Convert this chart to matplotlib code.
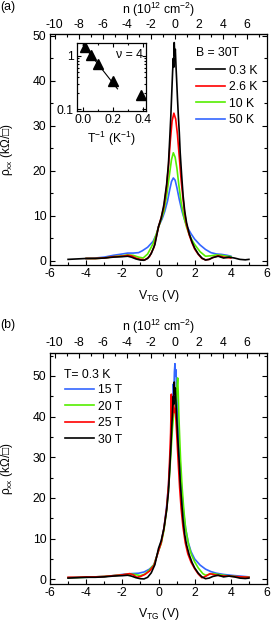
import matplotlib
matplotlib.use('Agg')
import matplotlib.pyplot as plt
from matplotlib.ticker import MultipleLocator, FixedLocator, NullFormatter, FixedFormatter

FS = 8.8
plt.rcParams['font.family'] = ['Liberation Sans', 'DejaVu Sans']
plt.rcParams['font.size'] = FS
plt.rcParams['axes.unicode_minus'] = False
plt.rcParams['mathtext.fontset'] = 'custom'
plt.rcParams['mathtext.rm'] = 'Liberation Sans'
plt.rcParams['mathtext.it'] = 'Liberation Sans:italic'
plt.rcParams['mathtext.default'] = 'regular'

# ---------------- data ----------------
# Panel (a): B = 30 T, various temperatures
v_03K = [-5.0, -4.5, -4.0, -3.5, -3.0, -2.5, -2.0, -1.7, -1.5, -1.25, -1.0, -0.8, -0.6, -0.4, -0.2, 0.0,
         0.15, 0.3, 0.45, 0.55, 0.62, 0.68, 0.73, 0.78, 0.82, 0.84, 0.87, 0.9, 0.93, 0.97, 1.0, 1.05,
         1.1, 1.15, 1.2, 1.28, 1.36, 1.45, 1.55, 1.7, 1.85, 2.0, 2.2, 2.4, 2.6, 2.8, 3.0, 3.3, 3.6,
         3.9, 4.2, 4.5, 4.8, 5.0]
r_03K = [0.3, 0.4, 0.5, 0.5, 0.6, 0.8, 0.9, 1.0, 0.8, 0.4, 0.15, 0.1, 0.5, 1.6, 3.6, 7.6,
         9.5, 12.5, 17.0, 21.5, 27.0, 32.0, 37.0, 42.0, 45.0, 43.0, 48.5, 45.5, 47.0, 43.0, 40.5, 36.0,
         32.0, 28.5, 24.0, 19.0, 14.5, 11.0, 8.5, 6.0, 4.2, 2.8, 1.5, 0.6, 0.15, 0.3, 0.7, 1.0, 0.6,
         0.8, 0.6, 0.3, 0.2, 0.3]

v_26K = [-4.0, -3.5, -3.0, -2.5, -2.0, -1.7, -1.5, -1.25, -1.0, -0.75, -0.5, -0.25, 0.0, 0.15, 0.3,
         0.45, 0.55, 0.65, 0.75, 0.85, 0.95, 1.05, 1.15, 1.25, 1.35, 1.45, 1.55, 1.7, 1.85, 2.0, 2.2,
         2.4, 2.6, 2.8, 3.0, 3.3, 3.6, 4.0]
r_26K = [0.5, 0.5, 0.6, 0.9, 1.0, 1.2, 1.1, 0.6, 0.3, 0.2, 0.9, 3.0, 7.5, 9.6, 12.0,
         16.5, 21.0, 26.5, 31.0, 32.8, 31.5, 28.0, 23.0, 18.0, 14.0, 10.5, 8.0, 5.7, 4.0, 2.6, 1.4,
         0.5, 0.2, 0.3, 0.7, 1.1, 0.8, 0.6]

v_10K = [-4.0, -3.5, -3.0, -2.5, -2.0, -1.7, -1.4, -1.1, -0.85, -0.6, -0.3, 0.0, 0.15, 0.3, 0.45,
         0.6, 0.72, 0.82, 0.92, 1.02, 1.12, 1.25, 1.4, 1.55, 1.7, 1.85, 2.0, 2.3, 2.6, 2.9, 3.2, 3.5,
         3.8, 4.0]
r_10K = [0.5, 0.5, 0.6, 0.9, 1.1, 1.3, 1.2, 0.8, 0.6, 1.5, 3.8, 7.4, 9.2, 11.0, 14.5,
         19.0, 22.5, 24.0, 23.0, 20.5, 17.0, 13.0, 9.8, 7.5, 5.8, 4.6, 3.6, 2.0, 1.0, 1.1, 1.3, 1.2,
         1.0, 0.9]

v_50K = [-4.0, -3.5, -3.0, -2.5, -2.0, -1.7, -1.4, -1.1, -0.9, -0.6, -0.3, -0.1, 0.0, 0.2, 0.35,
         0.5, 0.62, 0.72, 0.82, 0.92, 1.02, 1.15, 1.3, 1.45, 1.6, 1.8, 2.0, 2.3, 2.6, 2.9, 3.2, 3.5,
         3.8, 4.0]
r_50K = [0.5, 0.6, 0.8, 1.2, 1.5, 1.7, 1.7, 1.8, 2.2, 3.0, 4.3, 6.0, 7.6, 9.3, 11.0,
         13.3, 15.8, 17.6, 18.4, 17.9, 16.2, 13.6, 11.0, 9.0, 7.4, 6.0, 4.8, 3.5, 2.5, 1.8, 1.5, 1.4,
         1.2, 1.0]

# Panel (b): T = 0.3 K, various fields
v_15T = [-5.0, -4.5, -4.0, -3.5, -3.0, -2.5, -2.0, -1.5, -1.1, -0.8, -0.5, -0.25, 0.0, 0.15, 0.3,
         0.45, 0.55, 0.62, 0.68, 0.73, 0.78, 0.82, 0.85, 0.88, 0.91, 0.94, 0.97, 1.0, 1.05, 1.1,
         1.15, 1.22, 1.3, 1.4, 1.5, 1.65, 1.8, 2.0, 2.3, 2.6, 2.9, 3.2, 3.6, 4.0, 4.5, 5.0]
r_15T = [0.4, 0.5, 0.5, 0.6, 0.7, 0.9, 1.2, 1.4, 1.5, 1.8, 2.5, 3.6, 7.0, 9.2, 12.5,
         18.0, 23.0, 28.0, 33.0, 38.0, 43.0, 48.0, 46.0, 51.0, 53.0, 50.0, 51.5, 46.0, 41.0, 36.0,
         31.5, 26.0, 21.0, 16.0, 12.5, 9.0, 6.8, 5.0, 3.5, 2.5, 1.9, 1.5, 1.2, 1.0, 0.8, 0.6]

v_20T = [-5.0, -4.0, -3.0, -2.5, -2.0, -1.6, -1.3, -1.0, -0.75, -0.5, -0.25, 0.0, 0.15, 0.3, 0.45,
         0.55, 0.63, 0.7, 0.77, 0.83, 0.88, 0.93, 0.98, 1.02, 1.06, 1.09, 1.12, 1.17, 1.22, 1.3, 1.4,
         1.5, 1.65, 1.8, 2.0, 2.2, 2.45, 2.6, 2.8, 3.0, 3.3, 3.6, 4.0, 4.5, 5.0]
r_20T = [0.4, 0.5, 0.7, 0.9, 1.1, 1.3, 1.2, 0.9, 1.3, 2.3, 3.6, 7.0, 8.8, 12.0, 17.0,
         22.0, 27.0, 32.0, 37.0, 40.0, 42.0, 41.0, 44.0, 47.0, 49.5, 46.0, 41.0, 35.0, 29.5, 23.0, 17.0,
         12.5, 8.8, 6.3, 4.3, 2.8, 1.4, 1.0, 1.2, 1.4, 1.2, 1.0, 0.8, 0.6, 0.5]

v_25T = [-5.0, -4.5, -4.0, -3.5, -3.0, -2.5, -2.0, -1.6, -1.4, -1.2, -1.0, -0.75, -0.5, -0.25, 0.0,
         0.15, 0.3, 0.45, 0.55, 0.62, 0.67, 0.71, 0.74, 0.78, 0.83, 0.88, 0.93, 0.98, 1.04, 1.1,
         1.17, 1.25, 1.35, 1.48, 1.62, 1.8, 2.0, 2.2, 2.4, 2.6, 2.85, 3.1, 3.4, 3.8, 4.2, 4.6, 5.0]
r_25T = [0.5, 0.5, 0.6, 0.6, 0.7, 0.9, 1.1, 1.4, 1.1, 0.5, 0.7, 1.2, 2.0, 3.4, 7.0,
         9.0, 12.5, 17.5, 23.0, 30.0, 36.0, 45.5, 39.0, 40.0, 43.0, 41.0, 42.0, 38.0, 33.0, 28.0,
         22.5, 17.5, 13.0, 9.0, 6.3, 4.2, 2.6, 1.3, 0.4, 0.7, 1.4, 1.1, 0.9, 0.8, 0.7, 0.6, 0.5]

# Inset: activation plot, nu = 4
inv_T = [0.01, 0.05, 0.1, 0.2, 0.385]
rho_min = [1.45, 1.02, 0.70, 0.34, 0.185]
fit_x = [0.0, 0.23]
fit_y = [1.6, 0.24]

temps_a = ['0.3 K', '2.6 K', '10 K', '50 K']
fields_b = ['15 T', '20 T', '25 T', '30 T']
n_ticks = [-10, -8, -6, -4, -2, 0, 2, 4, 6]

C_BLACK = '#000000'
C_RED = '#ff0000'
C_GREEN = '#55ee00'
C_BLUE = '#3366ff'

W, H = 271, 624
fig = plt.figure(figsize=(W / 100, H / 100), dpi=100)


def v2n(v):
    return 1.504 * (v - 0.913)


def n2v(n):
    return n / 1.504 + 0.913


def fx(px):
    return px / W


def fy(py):
    return 1 - py / H


def style_main(ax, ylim, top_px, bot_px, xlabel_top_px, nlabel_px):
    ax.set_xlim(-6, 6)
    ax.set_ylim(*ylim)
    ax.xaxis.set_major_locator(MultipleLocator(2))
    ax.xaxis.set_minor_locator(MultipleLocator(1))
    ax.yaxis.set_major_locator(FixedLocator([0, 10, 20, 30, 40, 50]))
    ax.yaxis.set_minor_locator(FixedLocator([5, 15, 25, 35, 45, 55]))
    ax.tick_params(which='both', direction='in', top=False, right=True, width=0.8, pad=2.5)
    ax.tick_params(which='major', length=3.5)
    ax.tick_params(which='minor', length=2)
    for s in ax.spines.values():
        s.set_linewidth(0.9)
    hpx = bot_px - top_px
    ax.set_xlabel('V$_{TG}$ (V)')
    ax.xaxis.set_label_coords(0.5, -((xlabel_top_px - bot_px) / hpx))
    ax.set_ylabel('ρ$_{xx}$ (kΩ/□)', fontsize=8.5)
    ax.yaxis.set_label_coords(-(35 / 217), 0.5)
    sec = ax.secondary_xaxis('top', functions=(v2n, n2v))
    sec.xaxis.set_major_locator(FixedLocator(n_ticks))
    sec.xaxis.set_minor_locator(FixedLocator([-11, -9, -7, -5, -3, -1, 1, 3, 5, 7]))
    sec.tick_params(which='both', direction='in', width=0.8, pad=2.5)
    sec.tick_params(which='major', length=3.5)
    sec.tick_params(which='minor', length=2)
    fig.text(fx(158.5), fy(nlabel_px), 'n (10$^{12}$ cm$^{-2}$)', ha='center', va='center')
    return sec


lw = 1.2

# ---------------- panel (a) ----------------
top_a, bot_a = 34, 265
axa = fig.add_axes([fx(50), fy(bot_a), 217 / W, (bot_a - top_a) / H])
style_main(axa, (-0.95, 50.4), top_a, bot_a, 288, 10)

axa.plot(v_03K, r_03K, color=C_BLACK, lw=lw, label=temps_a[0], zorder=5)
axa.plot(v_26K, r_26K, color=C_RED, lw=lw, label=temps_a[1], zorder=4)
axa.plot(v_10K, r_10K, color=C_GREEN, lw=lw, label=temps_a[2], zorder=3)
axa.plot(v_50K, r_50K, color=C_BLUE, lw=lw, label=temps_a[3], zorder=2)
fig.text(fx(196), fy(53.5), 'B = 30T', ha='left', va='center')
axa.legend(loc='upper left', bbox_to_anchor=(fx(196), fy(64.5)), bbox_transform=fig.transFigure,
           frameon=False, handlelength=2.4, handletextpad=0.3, labelspacing=0.37,
           borderaxespad=0, borderpad=0, fontsize=FS)

fig.text(fx(0), fy(7), '(a)', ha='left', va='center')

# inset
axi = fig.add_axes([fx(77), fy(111), 69 / W, 68 / H])
axi.set_yscale('log')
axi.set_xlim(-0.04, 0.42)
axi.set_ylim(0.092, 1.75)
axi.plot(fit_x, fit_y, color='black', lw=0.8)
axi.plot(inv_T, rho_min, linestyle='none', marker='^', color='black', markersize=6.5)
axi.xaxis.set_major_locator(FixedLocator([0.0, 0.2, 0.4]))
axi.xaxis.set_major_formatter(FixedFormatter(['0.0', '0.2', '0.4']))
axi.xaxis.set_minor_locator(FixedLocator([0.1, 0.3]))
axi.yaxis.set_major_locator(FixedLocator([0.1, 1]))
axi.yaxis.set_major_formatter(FixedFormatter(['0.1', '1']))
axi.yaxis.set_minor_formatter(NullFormatter())
axi.tick_params(which='both', direction='in', top=True, right=True, width=0.8, pad=2.5)
axi.tick_params(which='major', length=3)
axi.tick_params(which='minor', length=1.6)
for s in axi.spines.values():
    s.set_linewidth(0.9)
axi.set_xlabel('T$^{-1}$ (K$^{-1}$)', labelpad=2.5)
axi.text(0.95, 0.83, 'ν = 4', transform=axi.transAxes, ha='right', va='center')

# ---------------- panel (b) ----------------
top_b, bot_b = 352.7, 584
axb = fig.add_axes([fx(50), fy(bot_b), 217 / W, (bot_b - top_b) / H])
style_main(axb, (-1.15, 55.7), top_b, bot_b, 606, 327)

axb.plot(v_15T, r_15T, color=C_BLUE, lw=lw, label=fields_b[0], zorder=2)
axb.plot(v_20T, r_20T, color=C_GREEN, lw=lw, label=fields_b[1], zorder=3)
axb.plot(v_25T, r_25T, color=C_RED, lw=lw, label=fields_b[2], zorder=4)
axb.plot(v_03K, r_03K, color=C_BLACK, lw=lw, label=fields_b[3], zorder=5)
fig.text(fx(64), fy(374.5), 'T= 0.3 K', ha='left', va='center')
axb.legend(loc='upper left', bbox_to_anchor=(fx(65), fy(384)), bbox_transform=fig.transFigure,
           frameon=False, handlelength=2.4, handletextpad=0.3, labelspacing=0.37,
           borderaxespad=0, borderpad=0, fontsize=FS)

fig.text(fx(0), fy(325), '(b)', ha='left', va='center')

fig.savefig('out.png', dpi=100)
